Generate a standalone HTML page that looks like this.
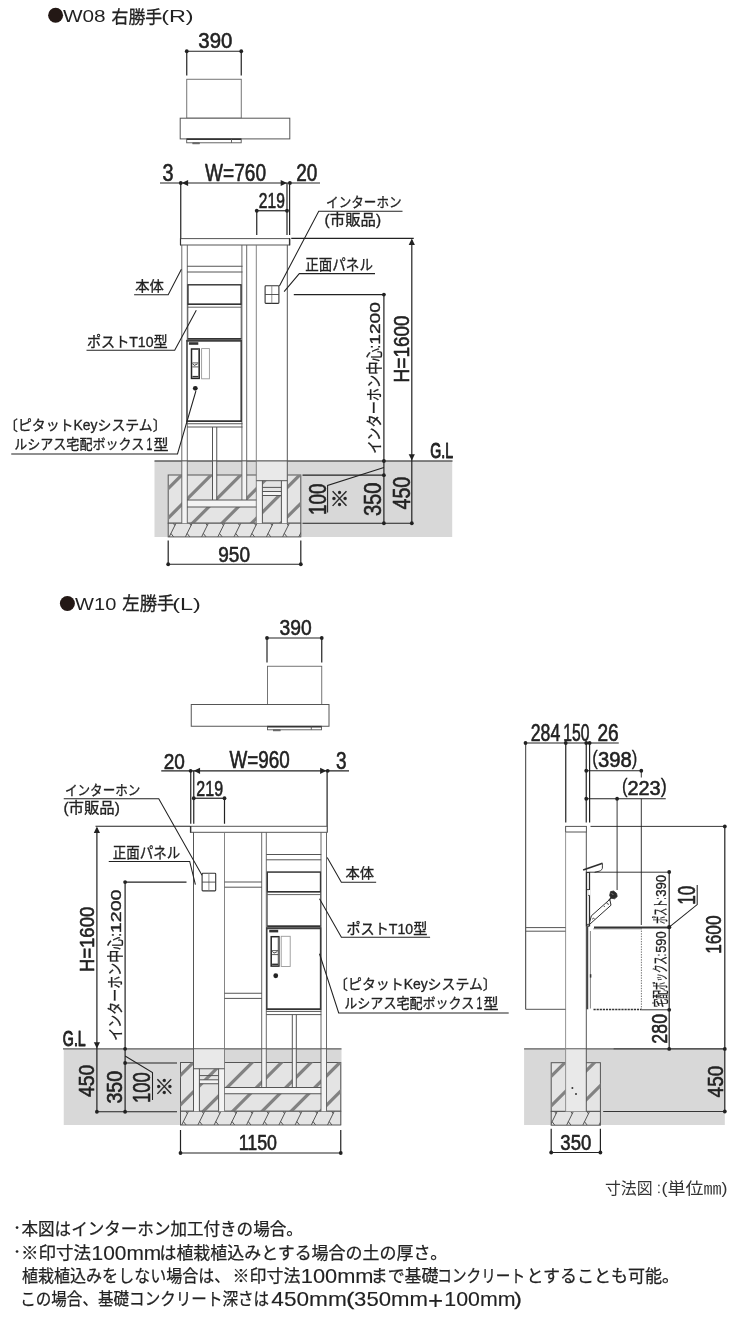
<!DOCTYPE html>
<html lang="ja"><head><meta charset="utf-8"><title>寸法図 W08 右勝手(R) / W10 左勝手(L)</title>
<style>html,body{margin:0;padding:0;background:#fff}body{width:740px;height:1329px;overflow:hidden;font-family:"Liberation Sans","Noto Sans CJK JP",sans-serif}svg{display:block;will-change:transform}text{font-family:"Liberation Sans","Noto Sans CJK JP",sans-serif}</style>
</head><body>
<svg width="740" height="1329" viewBox="0 0 740 1329">
<rect width="740" height="1329" fill="#fff"/>
<!-- W08 right-hand (R): title -->
<circle cx="55.6" cy="15.3" r="7.5" fill="#231815"/>
<text x="62.91" y="22.14" font-size="16.3" fill="#222" textLength="42.7" lengthAdjust="spacingAndGlyphs">W08</text>
<text x="111.53" y="22.74" font-size="17.2" fill="#222" stroke="#222" stroke-width="0.3" textLength="50.6" lengthAdjust="spacingAndGlyphs">右勝手</text>
<text x="161.16" y="22.25" font-size="16.9" fill="#222" textLength="32.5" lengthAdjust="spacingAndGlyphs">(R)</text>
<!-- W08 plan view -->
<line x1="186.75" y1="51.25" x2="241.25" y2="51.25" stroke="#222" stroke-width="1.2"/>
<line x1="186.75" y1="51.25" x2="186.75" y2="75.5" stroke="#222" stroke-width="1.2"/>
<line x1="241.25" y1="51.25" x2="241.25" y2="75.5" stroke="#222" stroke-width="1.2"/>
<circle cx="186.75" cy="51.25" r="1.9" fill="#222"/>
<circle cx="241.25" cy="51.25" r="1.9" fill="#222"/>
<text transform="translate(198.37 48.13) scale(0.9196 1)" font-size="22.17" fill="#222" stroke="#222" stroke-width="0.6" stroke-linejoin="round">390</text>
<rect x="186.75" y="79.25" width="54.5" height="38.95" fill="none" stroke="#666" stroke-width="0.9"/>
<rect x="180.2" y="118.2" width="109.6" height="20.7" fill="#fff" stroke="#555" stroke-width="1"/>
<rect x="186.7" y="138.9" width="54.5" height="3.9" fill="#fff" stroke="#555" stroke-width="0.9"/>
<line x1="186.7" y1="139.3" x2="241.2" y2="139.3" stroke="#333" stroke-width="1.4"/>
<line x1="231.5" y1="139" x2="231.5" y2="142.8" stroke="#555" stroke-width="0.9"/>
<rect x="192.8" y="142.8" width="6.6" height="1.1" fill="#777" stroke="#555" stroke-width="0.6"/>
<!-- W08 width dimensions -->
<line x1="160" y1="183" x2="320" y2="183" stroke="#222" stroke-width="1.2"/>
<line x1="180.75" y1="183" x2="180.75" y2="245" stroke="#222" stroke-width="1.2"/>
<line x1="287" y1="183" x2="287" y2="235" stroke="#222" stroke-width="1.2"/>
<line x1="289.6" y1="183" x2="289.6" y2="235" stroke="#222" stroke-width="1.2"/>
<circle cx="180.75" cy="183" r="1.9" fill="#222"/>
<circle cx="289.9" cy="183" r="1.9" fill="#222"/>
<path d="M181.8 183 L188.1 179.9 L188.1 186.1 Z" fill="#222"/>
<path d="M287 183 L280.7 179.9 L280.7 186.1 Z" fill="#222"/>
<text transform="translate(162.49 180.62) scale(0.8533 1)" font-size="23.23" fill="#222" stroke="#222" stroke-width="0.6" stroke-linejoin="round">3</text>
<text transform="translate(205.07 180.62) scale(0.8218 1)" font-size="23.23" fill="#222" stroke="#222" stroke-width="0.6" stroke-linejoin="round">W=760</text>
<text transform="translate(296.19 180.62) scale(0.8183 1)" font-size="23.23" fill="#222" stroke="#222" stroke-width="0.6" stroke-linejoin="round">20</text>
<line x1="256.75" y1="210.75" x2="287" y2="210.75" stroke="#222" stroke-width="1.2"/>
<line x1="256.75" y1="210.75" x2="256.75" y2="235" stroke="#222" stroke-width="1.2"/>
<circle cx="256.75" cy="210.75" r="1.9" fill="#222"/>
<circle cx="287" cy="210.75" r="1.9" fill="#222"/>
<text transform="translate(258.87 208.14) scale(0.7226 1)" font-size="21.54" fill="#222" stroke="#222" stroke-width="0.6" stroke-linejoin="round">219</text>
<!-- W08 ground -->
<rect x="154.5" y="461" width="297.7" height="76" fill="#d8d8d8" stroke="none" stroke-width="0"/>
<line x1="154.5" y1="461" x2="452.5" y2="461" stroke="#5c5c5c" stroke-width="1.3"/>
<rect x="168.2" y="475" width="132.6" height="48.2" fill="#e4e4e4" stroke="#555" stroke-width="1"/>
<clipPath id="cp1"><rect x="168.2" y="475" width="132.6" height="48.2"/></clipPath>
<g clip-path="url(#cp1)" stroke="#828282" stroke-width="3.2">
<line x1="130.55" y1="526.2" x2="184.75" y2="472"/>
<line x1="160" y1="526.2" x2="214.2" y2="472"/>
<line x1="189.5" y1="526.2" x2="243.7" y2="472"/>
<line x1="219" y1="526.2" x2="273.2" y2="472"/>
<line x1="248.5" y1="526.2" x2="302.7" y2="472"/>
<line x1="278" y1="526.2" x2="332.2" y2="472"/>
</g>
<rect x="168.2" y="523.2" width="132.6" height="13.7" fill="#e4e4e4" stroke="#555" stroke-width="1"/>
<clipPath id="cp2"><rect x="168.2" y="523.2" width="132.6" height="13.7"/></clipPath>
<path clip-path="url(#cp2)" d="M153 536.9 L159.8 523.2 M154.7 533.4 L157.4 536.9 M158.6 525.6 L157.2 523.2 M169.2 536.9 L176 523.2 M170.9 533.4 L173.6 536.9 M174.8 525.6 L173.4 523.2 M185.4 536.9 L192.2 523.2 M187.1 533.4 L189.8 536.9 M191 525.6 L189.6 523.2 M201.6 536.9 L208.4 523.2 M203.3 533.4 L206 536.9 M207.2 525.6 L205.8 523.2 M217.8 536.9 L224.6 523.2 M219.5 533.4 L222.2 536.9 M223.4 525.6 L222 523.2 M234 536.9 L240.8 523.2 M235.7 533.4 L238.4 536.9 M239.6 525.6 L238.2 523.2 M250.2 536.9 L257 523.2 M251.9 533.4 L254.6 536.9 M255.8 525.6 L254.4 523.2 M266.4 536.9 L273.2 523.2 M268.1 533.4 L270.8 536.9 M272 525.6 L270.6 523.2 M282.6 536.9 L289.4 523.2 M284.3 533.4 L287 536.9 M288.2 525.6 L286.8 523.2 M298.8 536.9 L305.6 523.2 M300.5 533.4 L303.2 536.9 M304.4 525.6 L303 523.2" fill="none" stroke="#555" stroke-width="1"/>
<!-- W08 elevation -->
<rect x="181.8" y="461.5" width="5.5" height="61.7" fill="#f3f3f3" stroke="none" stroke-width="0"/>
<rect x="212.5" y="461.5" width="4.25" height="38.5" fill="#f3f3f3" stroke="none" stroke-width="0"/>
<rect x="241.9" y="461.5" width="4.8" height="38.5" fill="#f3f3f3" stroke="none" stroke-width="0"/>
<rect x="187" y="500" width="69.3" height="7" fill="#f3f3f3" stroke="none" stroke-width="0"/>
<rect x="256.3" y="461.6" width="31.2" height="19.1" fill="#e9e9e9" stroke="none" stroke-width="0"/>
<rect x="256.3" y="480.7" width="6.1" height="42.5" fill="#f3f3f3" stroke="none" stroke-width="0"/>
<rect x="281.4" y="480.7" width="6.1" height="42.5" fill="#f3f3f3" stroke="none" stroke-width="0"/>
<rect x="262.4" y="491.5" width="19" height="4" fill="#f3f3f3" stroke="none" stroke-width="0"/>
<rect x="180.5" y="238.6" width="109.1" height="6.4" fill="#fff" stroke="#555" stroke-width="1"/>
<line x1="289.6" y1="238.3" x2="289.6" y2="245.3" stroke="#333" stroke-width="1.4"/>
<line x1="180.5" y1="238.3" x2="180.5" y2="245.3" stroke="#333" stroke-width="1.2"/>
<line x1="181.8" y1="245" x2="181.8" y2="523.2" stroke="#5a5a5a" stroke-width="0.9"/>
<line x1="187.3" y1="245" x2="187.3" y2="523.2" stroke="#5a5a5a" stroke-width="0.9"/>
<line x1="241.9" y1="245" x2="241.9" y2="500" stroke="#5a5a5a" stroke-width="0.9"/>
<line x1="246.7" y1="245" x2="246.7" y2="500" stroke="#5a5a5a" stroke-width="0.9"/>
<line x1="256.3" y1="245" x2="256.3" y2="523.2" stroke="#777" stroke-width="0.9"/>
<line x1="287.3" y1="245" x2="287.3" y2="523.2" stroke="#555" stroke-width="1"/>
<line x1="262.4" y1="480.7" x2="262.4" y2="523.2" stroke="#555" stroke-width="1"/>
<line x1="281.4" y1="480.7" x2="281.4" y2="523.2" stroke="#555" stroke-width="1"/>
<line x1="256.3" y1="480.7" x2="287.3" y2="480.7" stroke="#555" stroke-width="1"/>
<line x1="262.4" y1="487.4" x2="281.4" y2="487.4" stroke="#555" stroke-width="1"/>
<line x1="262.4" y1="491.5" x2="281.4" y2="491.5" stroke="#555" stroke-width="1"/>
<line x1="262.4" y1="495.5" x2="281.4" y2="495.5" stroke="#555" stroke-width="1"/>
<line x1="187" y1="266.25" x2="242.5" y2="266.25" stroke="#555" stroke-width="1"/>
<line x1="187" y1="272" x2="242.5" y2="272" stroke="#555" stroke-width="1"/>
<rect x="187.8" y="284.9" width="53.4" height="53.7" fill="#fff" stroke="#555" stroke-width="1"/>
<rect x="188" y="284.7" width="53" height="19.6" fill="none" stroke="#383838" stroke-width="1.15"/>
<line x1="187.8" y1="304.3" x2="241.2" y2="304.3" stroke="#333" stroke-width="1.6"/>
<line x1="187.8" y1="307.2" x2="241.2" y2="307.2" stroke="#555" stroke-width="0.9"/>
<line x1="187.8" y1="338.9" x2="241.2" y2="338.9" stroke="#333" stroke-width="1.8"/>
<rect x="186.6" y="340.6" width="55.2" height="80.8" fill="#fff" stroke="none" stroke-width="0"/>
<line x1="186.6" y1="340.8" x2="241.8" y2="340.8" stroke="#404040" stroke-width="2"/>
<line x1="186.6" y1="421.2" x2="241.8" y2="421.2" stroke="#333" stroke-width="1.8"/>
<line x1="187" y1="340" x2="187" y2="422" stroke="#3a3a3a" stroke-width="1.5"/>
<line x1="241.2" y1="340" x2="241.2" y2="422" stroke="#3a3a3a" stroke-width="1.5"/>
<rect x="188.9" y="342.2" width="9.4" height="2.6" fill="#333" stroke="none" stroke-width="0"/>
<rect x="191.5" y="349" width="7.7" height="29.4" fill="#fff" stroke="#262626" stroke-width="1.5"/>
<line x1="198.5" y1="349.4" x2="198.5" y2="378" stroke="#777" stroke-width="1"/>
<line x1="192.4" y1="362.9" x2="198.4" y2="362.9" stroke="#333" stroke-width="0.8"/>
<line x1="192.4" y1="366.9" x2="198.4" y2="366.9" stroke="#333" stroke-width="0.8"/>
<path d="M192.6 363.6 L194.2 365.4 L197.6 363.9" fill="none" stroke="#333" stroke-width="0.9"/>
<line x1="192.4" y1="376.6" x2="198.4" y2="376.6" stroke="#333" stroke-width="1.4"/>
<rect x="201.6" y="348.6" width="7.8" height="30.2" fill="#fff" stroke="#999" stroke-width="0.9"/>
<circle cx="195.3" cy="388.3" r="2.4" fill="#222"/>
<line x1="187" y1="423.75" x2="242.5" y2="423.75" stroke="#555" stroke-width="1"/>
<line x1="187" y1="427" x2="242.5" y2="427" stroke="#555" stroke-width="1"/>
<line x1="212.5" y1="427" x2="212.5" y2="500" stroke="#555" stroke-width="1"/>
<line x1="216.75" y1="427" x2="216.75" y2="500" stroke="#555" stroke-width="1"/>
<line x1="187" y1="500" x2="256.3" y2="500" stroke="#555" stroke-width="1"/>
<line x1="187" y1="507" x2="256.3" y2="507" stroke="#555" stroke-width="1"/>
<rect x="265.1" y="285.7" width="13.8" height="17.7" fill="#fff" stroke="#333" stroke-width="1.1" rx="0.8"/>
<line x1="271.8" y1="285.7" x2="271.8" y2="303.4" stroke="#777" stroke-width="0.8"/>
<line x1="265.1" y1="294.5" x2="278.9" y2="294.5" stroke="#444" stroke-width="0.9"/>
<!-- W08 leaders and labels -->
<path d="M402.5 211.3 L318.75 211.3 L279.4 286" fill="none" stroke="#222" stroke-width="1.05"/>
<text x="326.1" y="207.24" font-size="13.9" fill="#222" stroke="#222" stroke-width="0.3" textLength="75.5" lengthAdjust="spacingAndGlyphs">インターホン</text>
<text x="324.6" y="225.3" font-size="14.4" fill="#222" stroke="#222" stroke-width="0.3" textLength="56.5" lengthAdjust="spacingAndGlyphs">(市販品)</text>
<path d="M375 273.6 L299.3 273.6 L284.1 291.7" fill="none" stroke="#222" stroke-width="1.05"/>
<text x="305.32" y="270.41" font-size="14.8" fill="#222" stroke="#222" stroke-width="0.3" textLength="67.6" lengthAdjust="spacingAndGlyphs">正面パネル</text>
<text x="135.31" y="290.72" font-size="14.2" fill="#222" stroke="#222" stroke-width="0.3" textLength="28.6" lengthAdjust="spacingAndGlyphs">本体</text>
<path d="M134.1 294.7 L168.2 294.7 L181.4 269.2" fill="none" stroke="#222" stroke-width="1.05"/>
<text x="86.9" y="346.9" font-size="14.3" fill="#222" stroke="#222" stroke-width="0.3" textLength="80.8" lengthAdjust="spacingAndGlyphs">ポストT10型</text>
<path d="M86.5 350.2 L174.7 350.2 L196.3 310.3" fill="none" stroke="#222" stroke-width="1.05"/>
<text x="3.97" y="430.1" font-size="14.2" fill="#222" stroke="#222" stroke-width="0.3" textLength="162.7" lengthAdjust="spacingAndGlyphs">〔ピタットKeyシステム〕</text>
<text x="14.2" y="449.2" font-size="13.8" fill="#222" stroke="#222" stroke-width="0.3" textLength="130" lengthAdjust="spacingAndGlyphs">ルシアス宅配ボックス</text>
<text transform="translate(146.45 449.95) scale(0.6299 1)" font-size="16.57" fill="#222" stroke="#222" stroke-width="0.3" stroke-linejoin="round">1</text>
<text x="153.54" y="449.6" font-size="14.3" fill="#222" stroke="#222" stroke-width="0.3" textLength="15" lengthAdjust="spacingAndGlyphs">型</text>
<path d="M11.25 454 L177.5 454 L195.9 391" fill="none" stroke="#222" stroke-width="1.05"/>
<!-- W08 height dimensions -->
<line x1="291.25" y1="238.3" x2="413.75" y2="238.3" stroke="#222" stroke-width="1.2"/>
<line x1="411.8" y1="240" x2="411.8" y2="523.25" stroke="#222" stroke-width="1.2"/>
<path d="M411.8 238.6 L408.7 244.9 L414.9 244.9 Z" fill="#222"/>
<path d="M411.8 460.6 L408.7 454.3 L414.9 454.3 Z" fill="#222"/>
<line x1="293.8" y1="294.6" x2="383.9" y2="294.6" stroke="#222" stroke-width="1.2"/>
<line x1="383.9" y1="294.6" x2="383.9" y2="523.25" stroke="#222" stroke-width="1.2"/>
<circle cx="383.9" cy="294.6" r="1.9" fill="#222"/>
<circle cx="383.9" cy="461" r="1.9" fill="#222"/>
<circle cx="383.9" cy="475.2" r="1.9" fill="#222"/>
<circle cx="383.9" cy="523.25" r="1.9" fill="#222"/>
<circle cx="411.8" cy="523.25" r="1.9" fill="#222"/>
<line x1="302.5" y1="475.2" x2="383.9" y2="475.2" stroke="#222" stroke-width="1.2"/>
<line x1="302.5" y1="523.25" x2="411.8" y2="523.25" stroke="#222" stroke-width="1.2"/>
<path d="M327.6 512.5 L327.6 485.5 L383.9 467.5" fill="none" stroke="#222" stroke-width="1.05"/>
<text transform="translate(325.92 515.09) rotate(-90) scale(0.8070 1)" font-size="23.38" fill="#222" stroke="#222" stroke-width="0.6" stroke-linejoin="round">100</text>
<text x="329.71" y="506.24" font-size="19.6" fill="#222" stroke="#222" stroke-width="0.4">※</text>
<text transform="translate(381.12 516.11) rotate(-90) scale(0.8512 1)" font-size="23.59" fill="#222" stroke="#222" stroke-width="0.6" stroke-linejoin="round">350</text>
<text transform="translate(409.61 509.55) rotate(-90) scale(0.7994 1)" font-size="24.65" fill="#222" stroke="#222" stroke-width="0.6" stroke-linejoin="round">450</text>
<text transform="translate(409.03 382.41) rotate(-90) scale(0.8436 1)" font-size="22.53" fill="#222" stroke="#222" stroke-width="0.6" stroke-linejoin="round">H=1600</text>
<text transform="translate(380.4 344.71) rotate(-90) scale(1.2297 1)" font-size="15.54" fill="#222" stroke="#222" stroke-width="0.35" stroke-linejoin="round">1200</text>
<text transform="translate(380.28 453.84) rotate(-90)" font-size="16.1" fill="#222" stroke="#222" stroke-width="0.3" textLength="109.1" lengthAdjust="spacingAndGlyphs">インターホン中心:</text>
<text transform="translate(430.34 457.74) scale(0.6627 1)" font-size="21.33" fill="#222" stroke="#222" stroke-width="1" stroke-linejoin="round">G.L</text>
<line x1="168.2" y1="540.5" x2="168.2" y2="564.25" stroke="#222" stroke-width="1.2"/>
<line x1="300.8" y1="540.5" x2="300.8" y2="564.25" stroke="#222" stroke-width="1.2"/>
<line x1="168.2" y1="564.25" x2="300.8" y2="564.25" stroke="#222" stroke-width="1.2"/>
<circle cx="168.2" cy="564.25" r="1.9" fill="#222"/>
<circle cx="300.8" cy="564.25" r="1.9" fill="#222"/>
<text transform="translate(218.26 562.38) scale(0.8577 1)" font-size="22.17" fill="#222" stroke="#222" stroke-width="0.6" stroke-linejoin="round">950</text>
<!-- W10 left-hand (L): title -->
<circle cx="67.4" cy="603.5" r="7.5" fill="#231815"/>
<text x="75.13" y="610.03" font-size="16.6" fill="#222" textLength="41.2" lengthAdjust="spacingAndGlyphs">W10</text>
<text x="122.36" y="610.39" font-size="17.8" fill="#222" stroke="#222" stroke-width="0.3" textLength="52" lengthAdjust="spacingAndGlyphs">左勝手</text>
<text x="172.28" y="609.95" font-size="16.9" fill="#222" textLength="28.6" lengthAdjust="spacingAndGlyphs">(L)</text>
<!-- W10 plan view -->
<line x1="267" y1="638" x2="321.75" y2="638" stroke="#222" stroke-width="1.2"/>
<line x1="267" y1="638" x2="267" y2="662.5" stroke="#222" stroke-width="1.2"/>
<line x1="321.75" y1="638" x2="321.75" y2="662.5" stroke="#222" stroke-width="1.2"/>
<circle cx="267" cy="638" r="1.9" fill="#222"/>
<circle cx="321.75" cy="638" r="1.9" fill="#222"/>
<text transform="translate(279.42 635.13) scale(0.8564 1)" font-size="22.53" fill="#222" stroke="#222" stroke-width="0.6" stroke-linejoin="round">390</text>
<rect x="267.5" y="666.25" width="54.25" height="38.25" fill="none" stroke="#666" stroke-width="0.9"/>
<rect x="191.25" y="704.5" width="137.75" height="21.75" fill="#fff" stroke="#555" stroke-width="1"/>
<rect x="267.5" y="726.25" width="54" height="3.55" fill="#fff" stroke="#555" stroke-width="0.9"/>
<line x1="267.5" y1="726.7" x2="321.5" y2="726.7" stroke="#333" stroke-width="1.4"/>
<line x1="311.3" y1="726.4" x2="311.3" y2="729.8" stroke="#555" stroke-width="0.9"/>
<rect x="273.6" y="729.8" width="6.6" height="1.1" fill="#777" stroke="#555" stroke-width="0.6"/>
<!-- W10 width dimensions -->
<line x1="161.25" y1="770.8" x2="349" y2="770.8" stroke="#222" stroke-width="1.2"/>
<line x1="190.75" y1="770.8" x2="190.75" y2="823.75" stroke="#222" stroke-width="1.2"/>
<line x1="193.75" y1="770.8" x2="193.75" y2="823.75" stroke="#222" stroke-width="1.2"/>
<line x1="327.1" y1="770.8" x2="327.1" y2="832.3" stroke="#222" stroke-width="1.2"/>
<circle cx="190.6" cy="770.8" r="1.9" fill="#222"/>
<circle cx="327.7" cy="770.8" r="1.9" fill="#222"/>
<path d="M193.75 770.8 L200.05 767.7 L200.05 773.9 Z" fill="#222"/>
<path d="M326.4 770.8 L320.1 767.7 L320.1 773.9 Z" fill="#222"/>
<text transform="translate(163.69 768.63) scale(0.8310 1)" font-size="22.88" fill="#222" stroke="#222" stroke-width="0.6" stroke-linejoin="round">20</text>
<text transform="translate(229.57 768.12) scale(0.8116 1)" font-size="23.23" fill="#222" stroke="#222" stroke-width="0.6" stroke-linejoin="round">W=960</text>
<text transform="translate(336.03 769.01) scale(0.7883 1)" font-size="24.08" fill="#222" stroke="#222" stroke-width="0.6" stroke-linejoin="round">3</text>
<line x1="193.75" y1="798.25" x2="224.5" y2="798.25" stroke="#222" stroke-width="1.2"/>
<line x1="224.5" y1="798.25" x2="224.5" y2="823.75" stroke="#222" stroke-width="1.2"/>
<circle cx="193.75" cy="798.25" r="1.9" fill="#222"/>
<circle cx="224.5" cy="798.25" r="1.9" fill="#222"/>
<text transform="translate(196.34 796.13) scale(0.7011 1)" font-size="22.88" fill="#222" stroke="#222" stroke-width="0.6" stroke-linejoin="round">219</text>
<!-- W10 ground -->
<rect x="63.75" y="1048.8" width="277.75" height="76.2" fill="#d8d8d8" stroke="none" stroke-width="0"/>
<line x1="63" y1="1048.8" x2="341.5" y2="1048.8" stroke="#5c5c5c" stroke-width="1.3"/>
<rect x="180.5" y="1062.5" width="160.25" height="48.75" fill="#e4e4e4" stroke="#555" stroke-width="1"/>
<clipPath id="cp3"><rect x="180.5" y="1062.5" width="160.25" height="48.75"/></clipPath>
<g clip-path="url(#cp3)" stroke="#828282" stroke-width="3.2">
<line x1="112.15" y1="1114.25" x2="166.9" y2="1059.5"/>
<line x1="141.55" y1="1114.25" x2="196.3" y2="1059.5"/>
<line x1="170.95" y1="1114.25" x2="225.7" y2="1059.5"/>
<line x1="200.35" y1="1114.25" x2="255.1" y2="1059.5"/>
<line x1="229.75" y1="1114.25" x2="284.5" y2="1059.5"/>
<line x1="259.15" y1="1114.25" x2="313.9" y2="1059.5"/>
<line x1="288.15" y1="1114.25" x2="342.9" y2="1059.5"/>
<line x1="317.55" y1="1114.25" x2="372.3" y2="1059.5"/>
</g>
<rect x="180.5" y="1111.25" width="160.25" height="13.75" fill="#e4e4e4" stroke="#555" stroke-width="1"/>
<clipPath id="cp4"><rect x="180.5" y="1111.25" width="160.25" height="13.75"/></clipPath>
<path clip-path="url(#cp4)" d="M165.5 1125 L172.3 1111.25 M167.2 1121.5 L169.9 1125 M171.1 1113.65 L169.7 1111.25 M181.7 1125 L188.5 1111.25 M183.4 1121.5 L186.1 1125 M187.3 1113.65 L185.9 1111.25 M197.9 1125 L204.7 1111.25 M199.6 1121.5 L202.3 1125 M203.5 1113.65 L202.1 1111.25 M214.1 1125 L220.9 1111.25 M215.8 1121.5 L218.5 1125 M219.7 1113.65 L218.3 1111.25 M230.3 1125 L237.1 1111.25 M232 1121.5 L234.7 1125 M235.9 1113.65 L234.5 1111.25 M246.5 1125 L253.3 1111.25 M248.2 1121.5 L250.9 1125 M252.1 1113.65 L250.7 1111.25 M262.7 1125 L269.5 1111.25 M264.4 1121.5 L267.1 1125 M268.3 1113.65 L266.9 1111.25 M278.9 1125 L285.7 1111.25 M280.6 1121.5 L283.3 1125 M284.5 1113.65 L283.1 1111.25 M295.1 1125 L301.9 1111.25 M296.8 1121.5 L299.5 1125 M300.7 1113.65 L299.3 1111.25 M311.3 1125 L318.1 1111.25 M313 1121.5 L315.7 1125 M316.9 1113.65 L315.5 1111.25 M327.5 1125 L334.3 1111.25 M329.2 1121.5 L331.9 1125 M333.1 1113.65 L331.7 1111.25 M343.7 1125 L350.5 1111.25 M345.4 1121.5 L348.1 1125 M349.3 1113.65 L347.9 1111.25" fill="none" stroke="#555" stroke-width="1"/>
<!-- W10 elevation -->
<rect x="193.5" y="1049.4" width="31" height="19.35" fill="#e9e9e9" stroke="none" stroke-width="0"/>
<rect x="193.5" y="1068.75" width="5.9" height="42.5" fill="#f3f3f3" stroke="none" stroke-width="0"/>
<rect x="218.6" y="1068.75" width="5.9" height="42.5" fill="#f3f3f3" stroke="none" stroke-width="0"/>
<rect x="199.4" y="1079.8" width="19.2" height="3.95" fill="#f3f3f3" stroke="none" stroke-width="0"/>
<rect x="262" y="1049.4" width="4.25" height="38.1" fill="#f3f3f3" stroke="none" stroke-width="0"/>
<rect x="292.3" y="1049.4" width="4" height="38.1" fill="#f3f3f3" stroke="none" stroke-width="0"/>
<rect x="321" y="1049.4" width="5.5" height="61.85" fill="#f3f3f3" stroke="none" stroke-width="0"/>
<rect x="224.5" y="1087.5" width="96.75" height="6.25" fill="#f3f3f3" stroke="none" stroke-width="0"/>
<rect x="190.6" y="826.3" width="136.6" height="6" fill="#fff" stroke="#555" stroke-width="1"/>
<line x1="190.6" y1="826" x2="190.6" y2="832.6" stroke="#333" stroke-width="1.4"/>
<line x1="193.5" y1="832.3" x2="193.5" y2="1111.25" stroke="#555" stroke-width="1"/>
<line x1="224.5" y1="832.3" x2="224.5" y2="1111.25" stroke="#777" stroke-width="0.9"/>
<line x1="199.4" y1="1068.75" x2="199.4" y2="1111.25" stroke="#555" stroke-width="1"/>
<line x1="218.6" y1="1068.75" x2="218.6" y2="1111.25" stroke="#555" stroke-width="1"/>
<line x1="193.5" y1="1068.75" x2="224.5" y2="1068.75" stroke="#555" stroke-width="1"/>
<line x1="199.4" y1="1075.6" x2="218.6" y2="1075.6" stroke="#555" stroke-width="1"/>
<line x1="199.4" y1="1079.8" x2="218.6" y2="1079.8" stroke="#555" stroke-width="1"/>
<line x1="199.4" y1="1083.75" x2="218.6" y2="1083.75" stroke="#555" stroke-width="1"/>
<line x1="261.7" y1="832.3" x2="261.7" y2="1087.5" stroke="#5a5a5a" stroke-width="0.9"/>
<line x1="266.3" y1="832.3" x2="266.3" y2="1087.5" stroke="#5a5a5a" stroke-width="0.9"/>
<line x1="321" y1="832.3" x2="321" y2="1111.25" stroke="#5a5a5a" stroke-width="0.9"/>
<line x1="326.5" y1="832.3" x2="326.5" y2="1111.25" stroke="#5a5a5a" stroke-width="0.9"/>
<line x1="266.25" y1="854.5" x2="321.25" y2="854.5" stroke="#555" stroke-width="1"/>
<line x1="266.25" y1="859.8" x2="321.25" y2="859.8" stroke="#555" stroke-width="1"/>
<line x1="224.5" y1="882" x2="262" y2="882" stroke="#555" stroke-width="1"/>
<line x1="224.5" y1="887.2" x2="262" y2="887.2" stroke="#555" stroke-width="1"/>
<line x1="224.5" y1="993.25" x2="262" y2="993.25" stroke="#555" stroke-width="1"/>
<line x1="224.5" y1="998.4" x2="262" y2="998.4" stroke="#555" stroke-width="1"/>
<rect x="267.2" y="872.2" width="53.4" height="53.8" fill="#fff" stroke="#555" stroke-width="1"/>
<rect x="267.4" y="872" width="53" height="19.7" fill="none" stroke="#383838" stroke-width="1.15"/>
<line x1="267.2" y1="891.7" x2="320.6" y2="891.7" stroke="#333" stroke-width="1.6"/>
<line x1="267.2" y1="894.6" x2="320.6" y2="894.6" stroke="#555" stroke-width="0.9"/>
<line x1="267.2" y1="926.3" x2="320.6" y2="926.3" stroke="#333" stroke-width="1.8"/>
<rect x="266.4" y="928" width="54.6" height="81.4" fill="#fff" stroke="none" stroke-width="0"/>
<line x1="266.4" y1="928.2" x2="321" y2="928.2" stroke="#404040" stroke-width="2"/>
<line x1="266.4" y1="1009.2" x2="321" y2="1009.2" stroke="#333" stroke-width="1.8"/>
<line x1="266.8" y1="927.4" x2="266.8" y2="1010" stroke="#3a3a3a" stroke-width="1.5"/>
<line x1="320.6" y1="927.4" x2="320.6" y2="1010" stroke="#3a3a3a" stroke-width="1.5"/>
<rect x="269.2" y="929.8" width="9" height="2.6" fill="#333" stroke="none" stroke-width="0"/>
<rect x="271.2" y="936.7" width="7.7" height="29.4" fill="#fff" stroke="#262626" stroke-width="1.5"/>
<line x1="278.2" y1="937.1" x2="278.2" y2="965.7" stroke="#777" stroke-width="1"/>
<line x1="272.1" y1="950.6" x2="278.1" y2="950.6" stroke="#333" stroke-width="0.8"/>
<line x1="272.1" y1="954.6" x2="278.1" y2="954.6" stroke="#333" stroke-width="0.8"/>
<path d="M272.3 951.3 L273.9 953.1 L277.3 951.6" fill="none" stroke="#333" stroke-width="0.9"/>
<line x1="272.1" y1="964.3" x2="278.1" y2="964.3" stroke="#333" stroke-width="1.4"/>
<rect x="281.2" y="936.3" width="9" height="30.2" fill="#fff" stroke="#999" stroke-width="0.9"/>
<circle cx="275.75" cy="975.75" r="2.4" fill="#222"/>
<line x1="266.25" y1="1011.4" x2="321.25" y2="1011.4" stroke="#555" stroke-width="1"/>
<line x1="266.25" y1="1014.6" x2="321.25" y2="1014.6" stroke="#555" stroke-width="1"/>
<line x1="292.3" y1="1014.6" x2="292.3" y2="1087.5" stroke="#555" stroke-width="1"/>
<line x1="296.3" y1="1014.6" x2="296.3" y2="1087.5" stroke="#555" stroke-width="1"/>
<line x1="224.5" y1="1087.5" x2="321.25" y2="1087.5" stroke="#555" stroke-width="1"/>
<line x1="224.5" y1="1093.75" x2="321.25" y2="1093.75" stroke="#555" stroke-width="1"/>
<rect x="202.1" y="873.3" width="13.6" height="17.6" fill="#fff" stroke="#333" stroke-width="1.1" rx="0.8"/>
<line x1="208.9" y1="873.3" x2="208.9" y2="890.9" stroke="#777" stroke-width="0.8"/>
<line x1="202.1" y1="882.1" x2="215.7" y2="882.1" stroke="#444" stroke-width="0.9"/>
<!-- W10 leaders and labels -->
<path d="M63.75 798.7 L158.75 798.7 L202 875.2" fill="none" stroke="#222" stroke-width="1.05"/>
<text x="64.9" y="794.54" font-size="13.9" fill="#222" stroke="#222" stroke-width="0.3" textLength="75.5" lengthAdjust="spacingAndGlyphs">インターホン</text>
<text x="63.4" y="812.6" font-size="14.4" fill="#222" stroke="#222" stroke-width="0.3" textLength="56.5" lengthAdjust="spacingAndGlyphs">(市販品)</text>
<path d="M108.75 861.4 L189.7 861.4 L195.4 884.7" fill="none" stroke="#222" stroke-width="1.05"/>
<text x="112.72" y="857.71" font-size="14.8" fill="#222" stroke="#222" stroke-width="0.3" textLength="67.6" lengthAdjust="spacingAndGlyphs">正面パネル</text>
<text x="345.46" y="878.32" font-size="14.2" fill="#222" stroke="#222" stroke-width="0.3" textLength="28.6" lengthAdjust="spacingAndGlyphs">本体</text>
<path d="M376.15 882.3 L341.35 882.3 L327.2 857.5" fill="none" stroke="#222" stroke-width="1.05"/>
<text x="346.5" y="934" font-size="14.3" fill="#222" stroke="#222" stroke-width="0.3" textLength="80.8" lengthAdjust="spacingAndGlyphs">ポストT10型</text>
<path d="M430.1 937.3 L341.4 937.3 L319.5 898.75" fill="none" stroke="#222" stroke-width="1.05"/>
<text x="334.07" y="989.1" font-size="14.2" fill="#222" stroke="#222" stroke-width="0.3" textLength="162.7" lengthAdjust="spacingAndGlyphs">〔ピタットKeyシステム〕</text>
<text x="344.3" y="1008.2" font-size="13.8" fill="#222" stroke="#222" stroke-width="0.3" textLength="130" lengthAdjust="spacingAndGlyphs">ルシアス宅配ボックス</text>
<text transform="translate(476.55 1008.95) scale(0.6299 1)" font-size="16.57" fill="#222" stroke="#222" stroke-width="0.3" stroke-linejoin="round">1</text>
<text x="483.64" y="1008.6" font-size="14.3" fill="#222" stroke="#222" stroke-width="0.3" textLength="15" lengthAdjust="spacingAndGlyphs">型</text>
<path d="M508.7 1013 L338.7 1013 L319.5 953.75" fill="none" stroke="#222" stroke-width="1.05"/>
<!-- W10 height dimensions -->
<line x1="95.5" y1="826.25" x2="190" y2="826.25" stroke="#222" stroke-width="1.2"/>
<line x1="96.9" y1="828" x2="96.9" y2="1111.75" stroke="#222" stroke-width="1.2"/>
<path d="M96.9 826.6 L93.8 832.9 L100 832.9 Z" fill="#222"/>
<path d="M96.9 1048.5 L93.8 1042.2 L100 1042.2 Z" fill="#222"/>
<line x1="125.1" y1="882.1" x2="186.5" y2="882.1" stroke="#222" stroke-width="1.2"/>
<line x1="125.1" y1="882.1" x2="125.1" y2="1111.75" stroke="#222" stroke-width="1.2"/>
<circle cx="125.1" cy="882.1" r="1.9" fill="#222"/>
<circle cx="125.1" cy="1048.8" r="1.9" fill="#222"/>
<circle cx="125.1" cy="1063" r="1.9" fill="#222"/>
<circle cx="125.1" cy="1111.75" r="1.9" fill="#222"/>
<circle cx="96.9" cy="1111.75" r="1.9" fill="#222"/>
<line x1="125.1" y1="1063" x2="177" y2="1063" stroke="#222" stroke-width="1.2"/>
<line x1="96.9" y1="1111.75" x2="177" y2="1111.75" stroke="#222" stroke-width="1.2"/>
<path d="M125.1 1056 L152.5 1072.5 L152.5 1100" fill="none" stroke="#222" stroke-width="1.05"/>
<text transform="translate(149.87 1103.01) rotate(-90) scale(0.7834 1)" font-size="23.59" fill="#222" stroke="#222" stroke-width="0.6" stroke-linejoin="round">100</text>
<text x="154.61" y="1094.34" font-size="19.6" fill="#222" stroke="#222" stroke-width="0.4">※</text>
<text transform="translate(122.39 1103.6) rotate(-90) scale(0.9073 1)" font-size="21.61" fill="#222" stroke="#222" stroke-width="0.6" stroke-linejoin="round">350</text>
<text transform="translate(94.03 1097.05) rotate(-90) scale(0.8731 1)" font-size="22.25" fill="#222" stroke="#222" stroke-width="0.6" stroke-linejoin="round">450</text>
<text transform="translate(93.55 972.07) rotate(-90) scale(0.8823 1)" font-size="20.97" fill="#222" stroke="#222" stroke-width="0.6" stroke-linejoin="round">H=1600</text>
<text transform="translate(121.4 933.14) rotate(-90) scale(1.2987 1)" font-size="15.11" fill="#222" stroke="#222" stroke-width="0.35" stroke-linejoin="round">1200</text>
<text transform="translate(121.19 1040.73) rotate(-90)" font-size="15.9" fill="#222" stroke="#222" stroke-width="0.3" textLength="107.6" lengthAdjust="spacingAndGlyphs">インターホン中心:</text>
<text transform="translate(62.84 1045.94) scale(0.6657 1)" font-size="21.33" fill="#222" stroke="#222" stroke-width="1" stroke-linejoin="round">G.L</text>
<line x1="180.5" y1="1130" x2="180.5" y2="1153" stroke="#222" stroke-width="1.2"/>
<line x1="340.75" y1="1130" x2="340.75" y2="1153" stroke="#222" stroke-width="1.2"/>
<line x1="180.5" y1="1153" x2="340.75" y2="1153" stroke="#222" stroke-width="1.2"/>
<circle cx="180.5" cy="1153" r="1.9" fill="#222"/>
<circle cx="340.75" cy="1153" r="1.9" fill="#222"/>
<text transform="translate(238.69 1150.34) scale(0.8169 1)" font-size="21.82" fill="#222" stroke="#222" stroke-width="0.6" stroke-linejoin="round">1150</text>
<!-- W10 side view: ground -->
<rect x="524.1" y="1048.9" width="200.7" height="76.1" fill="#d8d8d8" stroke="none" stroke-width="0"/>
<line x1="524.1" y1="1048.9" x2="614" y2="1048.9" stroke="#5c5c5c" stroke-width="1.3"/>
<line x1="613.8" y1="1048.9" x2="724.8" y2="1048.9" stroke="#222" stroke-width="1.1"/>
<rect x="551.2" y="1062.7" width="49.2" height="48.7" fill="#e4e4e4" stroke="#555" stroke-width="1"/>
<clipPath id="cp5"><rect x="551.2" y="1062.7" width="49.2" height="48.7"/></clipPath>
<g clip-path="url(#cp5)" stroke="#828282" stroke-width="3.2">
<line x1="483.6" y1="1114.4" x2="538.3" y2="1059.7"/>
<line x1="513.1" y1="1114.4" x2="567.8" y2="1059.7"/>
<line x1="542.6" y1="1114.4" x2="597.3" y2="1059.7"/>
<line x1="571.6" y1="1114.4" x2="626.3" y2="1059.7"/>
<line x1="600.9" y1="1114.4" x2="655.6" y2="1059.7"/>
</g>
<rect x="551.2" y="1111.4" width="49.2" height="13.8" fill="#e4e4e4" stroke="#555" stroke-width="1"/>
<clipPath id="cp6"><rect x="551.2" y="1111.4" width="49.2" height="13.8"/></clipPath>
<path clip-path="url(#cp6)" d="M550.4 1125.2 L557.2 1111.4 M552.1 1121.7 L554.8 1125.2 M556 1113.8 L554.6 1111.4 M566.6 1125.2 L573.4 1111.4 M568.3 1121.7 L571 1125.2 M572.2 1113.8 L570.8 1111.4 M582.8 1125.2 L589.6 1111.4 M584.5 1121.7 L587.2 1125.2 M588.4 1113.8 L587 1111.4 M599 1125.2 L605.8 1111.4 M600.7 1121.7 L603.4 1125.2 M604.6 1113.8 L603.2 1111.4" fill="none" stroke="#555" stroke-width="1"/>
<rect x="565.6" y="1049.5" width="20.6" height="61.9" fill="#e9e9e9" stroke="none" stroke-width="0"/>
<circle cx="572.4" cy="1088.1" r="1" fill="#333"/>
<circle cx="576" cy="1094.1" r="1" fill="#333"/>
<!-- W10 side view: depth dimensions -->
<line x1="525.5" y1="743" x2="618.75" y2="743" stroke="#222" stroke-width="1.2"/>
<circle cx="525.5" cy="743" r="1.9" fill="#222"/>
<circle cx="565.75" cy="743" r="1.9" fill="#222"/>
<circle cx="586.25" cy="743" r="1.9" fill="#222"/>
<circle cx="589.6" cy="743" r="1.9" fill="#222"/>
<line x1="525.7" y1="743" x2="525.7" y2="1009.3" stroke="#222" stroke-width="0.9"/>
<line x1="565.75" y1="743" x2="565.75" y2="822.5" stroke="#222" stroke-width="1.2"/>
<line x1="586.25" y1="743" x2="586.25" y2="822.5" stroke="#222" stroke-width="1.2"/>
<line x1="589.6" y1="743" x2="589.6" y2="822.5" stroke="#222" stroke-width="1.2"/>
<text transform="translate(530.76 740.62) scale(0.7639 1)" font-size="23.23" fill="#222" stroke="#222" stroke-width="0.6" stroke-linejoin="round">284</text>
<text transform="translate(563.25 740.62) scale(0.6761 1)" font-size="23.23" fill="#222" stroke="#222" stroke-width="0.6" stroke-linejoin="round">150</text>
<text transform="translate(597.44 740.62) scale(0.8223 1)" font-size="23.23" fill="#222" stroke="#222" stroke-width="0.6" stroke-linejoin="round">26</text>
<line x1="586.25" y1="770.75" x2="641.3" y2="770.75" stroke="#222" stroke-width="1.2"/>
<circle cx="586.25" cy="770.75" r="1.9" fill="#222"/>
<circle cx="641.3" cy="770.75" r="1.9" fill="#222"/>
<text transform="translate(592.32 764.88) scale(0.8052 1)" font-size="20.61" fill="#222" stroke="#222" stroke-width="0.3" stroke-linejoin="round">(</text>
<text transform="translate(597.98 766.94) scale(0.9422 1)" font-size="21.47" fill="#222" stroke="#222" stroke-width="0.6" stroke-linejoin="round">398</text>
<text transform="translate(631.75 764.88) scale(0.8052 1)" font-size="20.61" fill="#222" stroke="#222" stroke-width="0.3" stroke-linejoin="round">)</text>
<line x1="586.25" y1="798.75" x2="665.75" y2="798.75" stroke="#222" stroke-width="1.2"/>
<circle cx="586.25" cy="798.75" r="1.9" fill="#222"/>
<circle cx="617.1" cy="798.75" r="1.9" fill="#222"/>
<text transform="translate(622.02 793.44) scale(0.8357 1)" font-size="19.86" fill="#222" stroke="#222" stroke-width="0.3" stroke-linejoin="round">(</text>
<text transform="translate(627.45 795.45) scale(0.9607 1)" font-size="20.76" fill="#222" stroke="#222" stroke-width="0.6" stroke-linejoin="round">223</text>
<text transform="translate(660.84 793.44) scale(0.9117 1)" font-size="19.86" fill="#222" stroke="#222" stroke-width="0.3" stroke-linejoin="round">)</text>
<line x1="641.3" y1="770.75" x2="641.3" y2="777.5" stroke="#222" stroke-width="0.9"/>
<line x1="641.3" y1="798.75" x2="641.3" y2="925" stroke="#222" stroke-width="0.9"/>
<line x1="617.1" y1="798.75" x2="617.1" y2="890" stroke="#222" stroke-width="0.9"/>
<!-- W10 side view: body -->
<rect x="565.6" y="826.4" width="20.8" height="5.6" fill="#fff" stroke="#555" stroke-width="1"/>
<line x1="565.6" y1="832" x2="565.6" y2="1111.4" stroke="#888" stroke-width="0.9"/>
<line x1="586.3" y1="832" x2="586.3" y2="1111.4" stroke="#555" stroke-width="1"/>
<line x1="525.7" y1="927.6" x2="565.6" y2="927.6" stroke="#555" stroke-width="1"/>
<line x1="525.7" y1="931.2" x2="565.6" y2="931.2" stroke="#555" stroke-width="1"/>
<line x1="525.7" y1="1009.3" x2="565.6" y2="1009.3" stroke="#555" stroke-width="1"/>
<line x1="583.1" y1="870" x2="602.6" y2="863.2" stroke="#2e2e2e" stroke-width="1.7"/>
<path d="M601.6 863.4 C603.4 864.2 602.0 865.4 602.4 867.0 C602.8 869.2 601.0 870.6 599.2 871.2 L594.6 872.3" fill="none" stroke="#3a3a3a" stroke-width="1"/>
<line x1="589.7" y1="872.2" x2="669.2" y2="872.2" stroke="#222" stroke-width="0.9"/>
<rect x="586.5" y="872.4" width="3" height="53.4" fill="#fff" stroke="#2e2e2e" stroke-width="1.25"/>
<line x1="586.5" y1="889.6" x2="589.5" y2="889.6" stroke="#2e2e2e" stroke-width="0.9"/>
<line x1="589.5" y1="890" x2="589.5" y2="895.4" stroke="#fff" stroke-width="1.4"/>
<line x1="588.2" y1="895.4" x2="589.6" y2="895.4" stroke="#2e2e2e" stroke-width="0.9"/>
<path d="M589 924.9 L591.3 915.9 L609.8 899.4 L611 905.2 Z" fill="#fff" stroke="#2e2e2e" stroke-width="1"/>
<path d="M592 919.3 L593.6 918 L594.6 919.4" fill="none" stroke="#2e2e2e" stroke-width="0.8"/>
<path d="M606.3 903 L607.9 903.4 L608.4 905" fill="none" stroke="#2e2e2e" stroke-width="0.8"/>
<circle cx="604.3" cy="906.3" r="0.6" fill="#2e2e2e"/>
<circle cx="588" cy="925.2" r="1.5" fill="#2e2e2e"/>
<circle cx="588" cy="925.2" r="0.6" fill="#fff"/>
<line x1="608.6" y1="900.6" x2="612.6" y2="896" stroke="#2e2e2e" stroke-width="1.3"/>
<path d="M610.6 891.6 L613.6 891.0 L616.6 893.4 L617.2 896.6 L614.6 898.8 L611.2 898.2 L609.6 895.4 Z" fill="#2a2a2a" stroke="#2a2a2a" stroke-width="0.8" stroke-linejoin="round"/>
<line x1="611.6" y1="893.2" x2="613.4" y2="895" stroke="#999" stroke-width="0.8"/>
<line x1="594" y1="927.4" x2="669.2" y2="927.4" stroke="#333" stroke-width="2"/>
<line x1="593.5" y1="928.9" x2="641.4" y2="928.9" stroke="#333" stroke-width="0.9" stroke-dasharray="1 1"/>
<line x1="587.3" y1="927" x2="587.3" y2="1009.3" stroke="#444" stroke-width="1.9"/>
<line x1="590.4" y1="931" x2="590.4" y2="1008.5" stroke="#666" stroke-width="0.8"/>
<line x1="590.6" y1="974.2" x2="590.6" y2="977.6" stroke="#333" stroke-width="1.5"/>
<line x1="593.5" y1="1009.5" x2="641.6" y2="1009.5" stroke="#333" stroke-width="1.7" stroke-dasharray="2.2 0.9"/>
<line x1="641.6" y1="1009.8" x2="669.2" y2="1009.8" stroke="#222" stroke-width="0.9"/>
<line x1="641.4" y1="928" x2="641.4" y2="1009" stroke="#666" stroke-width="0.9" stroke-dasharray="1.4 1.2"/>
<!-- W10 side view: height dimensions -->
<line x1="590.5" y1="826.4" x2="724.8" y2="826.4" stroke="#222" stroke-width="0.9"/>
<line x1="724.8" y1="826.4" x2="724.8" y2="1111.5" stroke="#222" stroke-width="1.2"/>
<circle cx="724.8" cy="826.4" r="1.9" fill="#222"/>
<circle cx="724.8" cy="1048.9" r="1.9" fill="#222"/>
<circle cx="724.8" cy="1111.5" r="1.9" fill="#222"/>
<line x1="669.2" y1="872" x2="669.2" y2="1048.9" stroke="#222" stroke-width="1.2"/>
<circle cx="669.2" cy="872" r="1.9" fill="#222"/>
<circle cx="669.2" cy="927.2" r="2.1" fill="#222"/>
<circle cx="669.2" cy="1009.8" r="1.9" fill="#222"/>
<circle cx="669.2" cy="1048.9" r="1.9" fill="#222"/>
<line x1="603.2" y1="1111.5" x2="724.8" y2="1111.5" stroke="#222" stroke-width="0.9"/>
<text transform="translate(666.4 896.85) rotate(-90) scale(0.8490 1)" font-size="15.4" fill="#222" stroke="#222" stroke-width="0.3" stroke-linejoin="round">390</text>
<text transform="translate(666.47 924.12) rotate(-90)" font-size="15.8" fill="#222" stroke="#222" stroke-width="0.25" textLength="26.75" lengthAdjust="spacingAndGlyphs">ポスト:</text>
<text transform="translate(666.4 952.86) rotate(-90) scale(0.8337 1)" font-size="15.4" fill="#222" stroke="#222" stroke-width="0.3" stroke-linejoin="round">590</text>
<text transform="translate(665.98 1007.23) rotate(-90)" font-size="15.4" fill="#222" stroke="#222" stroke-width="0.25" textLength="53.3" lengthAdjust="spacingAndGlyphs">宅配ボックス:</text>
<text transform="translate(666.93 1043.64) rotate(-90) scale(0.8050 1)" font-size="22.1" fill="#222" stroke="#222" stroke-width="0.6" stroke-linejoin="round">280</text>
<path d="M697.2 885.1 L697.2 904.6 L669.2 927.2" fill="none" stroke="#222" stroke-width="1.05"/>
<text transform="translate(694.92 904.76) rotate(-90) scale(0.7206 1)" font-size="23.8" fill="#222" stroke="#222" stroke-width="0.6" stroke-linejoin="round">10</text>
<text transform="translate(721.34 953.86) rotate(-90) scale(0.7908 1)" font-size="21.82" fill="#222" stroke="#222" stroke-width="0.6" stroke-linejoin="round">1600</text>
<text transform="translate(722.53 1097.39) rotate(-90) scale(0.8272 1)" font-size="22.95" fill="#222" stroke="#222" stroke-width="0.6" stroke-linejoin="round">450</text>
<line x1="551.2" y1="1152.5" x2="600.4" y2="1152.5" stroke="#222" stroke-width="1.2"/>
<line x1="551.2" y1="1128.8" x2="551.2" y2="1152.5" stroke="#222" stroke-width="1.2"/>
<line x1="600.4" y1="1128.8" x2="600.4" y2="1152.5" stroke="#222" stroke-width="1.2"/>
<circle cx="551.2" cy="1152.5" r="1.9" fill="#222"/>
<circle cx="600.4" cy="1152.5" r="1.9" fill="#222"/>
<text transform="translate(560.34 1150.14) scale(0.8721 1)" font-size="21.26" fill="#222" stroke="#222" stroke-width="0.6" stroke-linejoin="round">350</text>
<!-- footer notes -->
<text x="604.96" y="1194.41" font-size="16.1" fill="#333" textLength="47.7" lengthAdjust="spacingAndGlyphs">寸法図</text>
<circle cx="658.9" cy="1185.4" r="0.85" fill="#444"/>
<circle cx="658.9" cy="1192.3" r="0.85" fill="#444"/>
<text x="661.4" y="1194.4" font-size="16.4" fill="#333" textLength="66" lengthAdjust="spacingAndGlyphs">(単位㎜)</text>
<circle cx="17.05" cy="1227.6" r="1.35" fill="#222"/>
<text x="21.52" y="1234.5" font-size="17.2" fill="#222" stroke="#222" stroke-width="0.25" textLength="281.3" lengthAdjust="spacingAndGlyphs">本図はインターホン加工付きの場合。</text>
<circle cx="17.05" cy="1251.5" r="1.35" fill="#222"/>
<text x="21" y="1258.54" font-size="17.3" fill="#222" stroke="#222" stroke-width="0.25" textLength="70" lengthAdjust="spacingAndGlyphs">※印寸法</text>
<text transform="translate(91.56 1259.56) scale(1.0566 1)" font-size="19.77" fill="#222" stroke="#222" stroke-width="0.12" stroke-linejoin="round">100mm</text>
<text x="159.44" y="1258.5" font-size="17.2" fill="#222" stroke="#222" stroke-width="0.25" textLength="287.9" lengthAdjust="spacingAndGlyphs">は植栽植込みとする場合の土の厚さ。</text>
<text x="21.92" y="1282.3" font-size="17.3" fill="#222" stroke="#222" stroke-width="0.25" textLength="208.5" lengthAdjust="spacingAndGlyphs">植栽植込みをしない場合は、</text>
<text x="232.58" y="1282.33" font-size="17.3" fill="#222" stroke="#222" stroke-width="0.25" textLength="67.8" lengthAdjust="spacingAndGlyphs">※印寸法</text>
<text transform="translate(300.79 1283.16) scale(1.1041 1)" font-size="19.77" fill="#222" stroke="#222" stroke-width="0.12" stroke-linejoin="round">100mm</text>
<text x="370.7" y="1282.36" font-size="17.4" fill="#222" stroke="#222" stroke-width="0.25" textLength="67.8" lengthAdjust="spacingAndGlyphs">まで基礎</text>
<text x="437.3" y="1282.48" font-size="17.4" fill="#222" stroke="#222" stroke-width="0.25" textLength="87.8" lengthAdjust="spacingAndGlyphs">コンクリート</text>
<text x="526.4" y="1282.38" font-size="17.4" fill="#222" stroke="#222" stroke-width="0.25" textLength="152.5" lengthAdjust="spacingAndGlyphs">とすることも可能。</text>
<text x="20.2" y="1305.49" font-size="17.4" fill="#222" stroke="#222" stroke-width="0.25" textLength="249" lengthAdjust="spacingAndGlyphs">この場合、基礎コンクリート深さは</text>
<text transform="translate(271.33 1306.46) scale(1.1453 1)" font-size="19.77" fill="#222" stroke="#222" stroke-width="0.12" stroke-linejoin="round">450mm</text>
<text x="346.37" y="1305.01" font-size="18" fill="#222" stroke="#222" stroke-width="0.3" textLength="8" lengthAdjust="spacingAndGlyphs">(</text>
<text transform="translate(354.11 1306.46) scale(1.1209 1)" font-size="19.77" fill="#222" stroke="#222" stroke-width="0.12" stroke-linejoin="round">350mm</text>
<text transform="translate(427.98 1308.8) scale(1.0151 1)" font-size="25.55" fill="#222" stroke="#222" stroke-width="0.12" stroke-linejoin="round">+</text>
<text transform="translate(444.32 1306.46) scale(1.0804 1)" font-size="19.77" fill="#222" stroke="#222" stroke-width="0.12" stroke-linejoin="round">100mm</text>
<text x="514.32" y="1305.01" font-size="18" fill="#222" stroke="#222" stroke-width="0.3" textLength="7.5" lengthAdjust="spacingAndGlyphs">)</text>
</svg>
</body></html>
